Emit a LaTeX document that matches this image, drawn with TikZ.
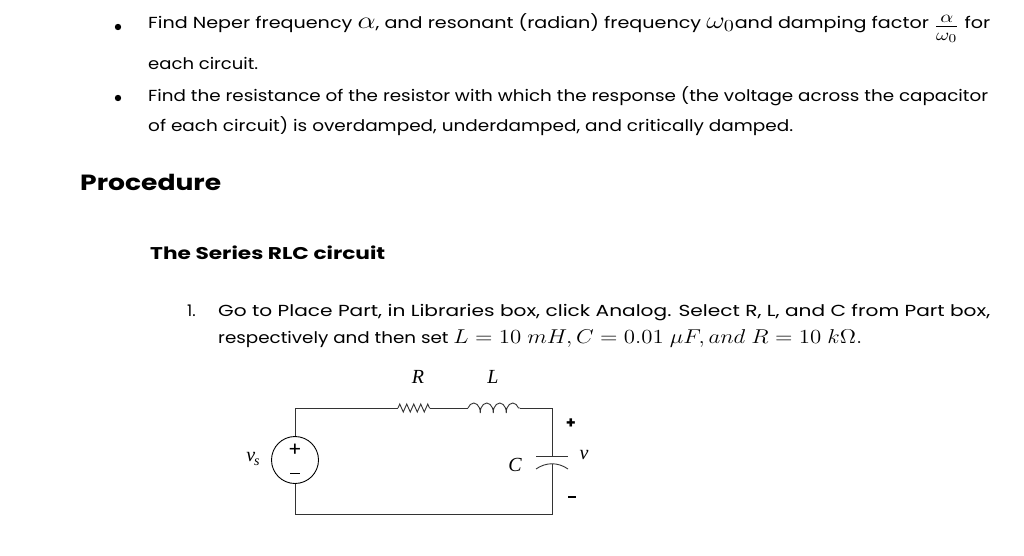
\RequirePackage{fix-cm}
\documentclass[tikz,border=0pt]{standalone}
\usepackage{fontspec}
\setmainfont{Poppins}
\newfontfamily\serif{Liberation Serif}
\usetikzlibrary{decorations.pathmorphing}
\newcommand{\fitw}[2]{\resizebox{#1pt}{\height}{#2}}
\newcommand{\mm}[2][1.5]{\scalebox{#1}{$#2$}}
\newcommand{\lab}[1]{\scalebox{2}{\serif\itshape #1}}
\begin{document}
\begin{tikzpicture}[x=1pt,y=-1pt,
  txt/.style={anchor=base west,inner sep=0pt,font=\fontsize{16}{18}\selectfont},
  lbl/.style={inner sep=0pt},
  wire/.style={line width=0.9pt,draw=black!80}]
\useasboundingbox (0,0) rectangle (1024,555);
\fill[white] (0,0) rectangle (1024,555);
\fill (118,27) circle (3.2) (118,98) circle (3.2);
\node[txt] (t1) at (148,28) {\fitw{842}{Find Neper frequency \mm{\alpha}, and resonant (radian) frequency \mm{\omega_0}and damping factor \raisebox{-4pt}{\mm{\frac{\alpha}{\omega_0}}} for}};
\node[txt] (t2) at (148,69) {\fitw{110}{each circuit.}};
\node[txt] (t3) at (148,101) {\fitw{840}{Find the resistance of the resistor with which the response (the voltage across the capacitor}};
\node[txt] (t4) at (148,131) {\fitw{645}{of each circuit) is overdamped, underdamped, and critically damped.}};
\node[txt,font=\fontsize{22}{24}\selectfont\bfseries] (p) at (80,190) {\fitw{141}{Procedure}};
\node[txt,font=\fontsize{17}{18}\selectfont\bfseries] (s) at (150,259) {\fitw{235}{The Series RLC circuit}};
\node[txt] (n1) at (187,316) {1.};
\node[txt] (g1) at (218,316) {\fitw{772}{Go to Place Part, in Libraries box, click Analog. Select R, L, and C from Part box,}};
\node[txt] (g2) at (218,343) {\fitw{644}{respectively and then set \mm[1.25]{L=10\ mH, C=0.01\ \mu F, and\ R=10\ k\Omega.}}};
% circuit
\coordinate (tl) at (295,408); \coordinate (tr) at (552,408);
\coordinate (bl) at (295,514); \coordinate (br) at (552,514);
\node[circle,draw,line width=0.9pt,minimum size=47pt,inner sep=0pt] (vs) at (295,460) {};
\node at (295,450) {\scalebox{2}{+}};
\draw[line width=0.8pt] (290,473) -- (300,473);
\coordinate (r1) at (398,408); \coordinate (r2) at (430,408);
\coordinate (l1) at (468,408); \coordinate (l2) at (520,408);
\coordinate (c1) at (552,456);
\draw[wire] (vs.north) -- (tl) -- (r1);
\draw[wire,decorate,decoration={zigzag,segment length=7pt,amplitude=4pt}] (r1) -- (r2);
\draw[wire] (r2) -- (l1);
\draw[wire,decorate,decoration={coil,aspect=0.5,segment length=13pt,amplitude=5pt}] (l1) -- (l2);
\draw[wire] (l2) -- (tr) -- (c1);
\draw[wire] (536,456) -- (568,456);
\draw[wire] (536,469) .. controls (546,462) and (558,462) .. (568,469);
\draw[wire] (552,464) -- (br) -- (bl) -- (vs.south);
\node[lbl] at (418,377) {\lab{R}};
\node[lbl] at (493,377) {\lab{L}};
\node[lbl] at (515,465) {\lab{C}};
\node[lbl] at (584,455) {\lab{v}};
\node[lbl] at (253,459) {\lab{v\kern-0.5pt\raisebox{-2pt}{\scalebox{0.7}{s}}}};
\node at (571,424) {\scalebox{1.6}{\bfseries +}};
\draw[line width=1.4pt] (568,497) -- (576,497);
\end{tikzpicture}
\end{document}
